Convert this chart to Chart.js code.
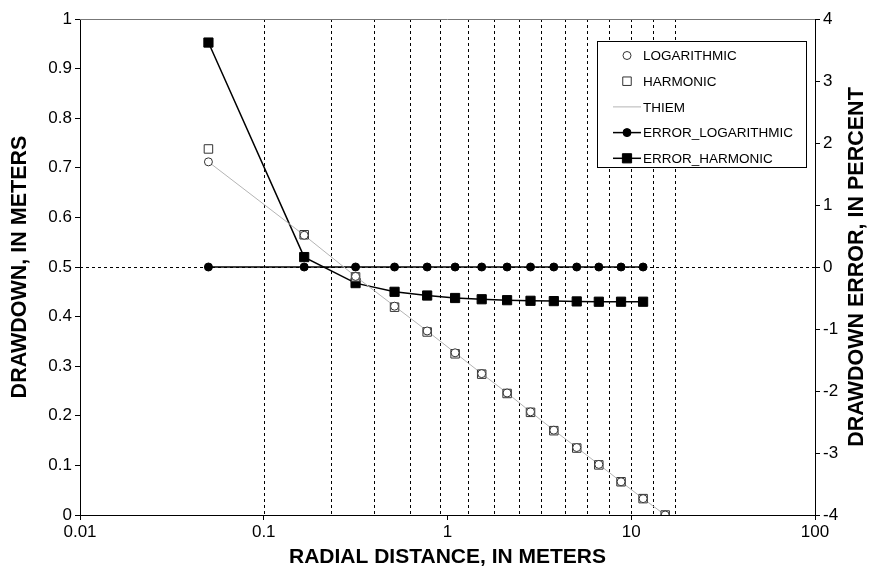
<!DOCTYPE html>
<html>
<head>
<meta charset="utf-8">
<script src="https://cdn.jsdelivr.net/npm/chart.js@4/dist/chart.umd.min.js"></script>
<style>
  html, body { margin: 0; padding: 0; background: #fff; }
  #wrap { width: 870px; height: 573px; }
</style>
</head>
<body>
<div id="wrap"><canvas id="chart" width="870" height="573"></canvas></div>
<script>
// radial distances of the cell centres (m)
const radius = [0.05, 0.166, 0.316, 0.515, 0.775, 1.10, 1.535, 2.11, 2.83, 3.79, 5.05, 6.66, 8.8, 11.6, 15.3];
// cell edges, drawn as dotted verticals
const cellEdges = [0.1, 0.232, 0.399, 0.628, 0.916, 1.286, 1.78, 2.44, 3.22, 4.36, 5.75, 7.58, 10, 13.2, 17.4];

const logarithmic = [0.712, 0.564, 0.481, 0.421, 0.371, 0.327, 0.285, 0.246, 0.208, 0.171, 0.136, 0.102, 0.067, 0.033, 0.0];
const harmonic    = [0.738, 0.565, 0.480, 0.419, 0.369, 0.325, 0.284, 0.245, 0.207, 0.170, 0.135, 0.101, 0.067, 0.033, 0.0];
const thiem       = [0.712, 0.564, 0.481, 0.421, 0.371, 0.327, 0.285, 0.246, 0.208, 0.171, 0.136, 0.102, 0.067, 0.033, 0.0];

// percent error, first 14 radii
const errorLog      = [0, 0, 0, 0, 0, 0, 0, 0, 0, 0, 0, 0, 0, 0];
const errorHarmonic = [3.62, 0.16, -0.26, -0.40, -0.46, -0.50, -0.52, -0.535, -0.545, -0.55, -0.555, -0.56, -0.56, -0.56];

const xTicks = [0.01, 0.1, 1, 10, 100];

const FONT = '"Liberation Sans", Arial, sans-serif';
const pts = vals => vals.map((v, i) => ({ x: radius[i], y: v }));

const guides = {
  id: 'guides',
  beforeDatasetsDraw(chart) {
    const { ctx, chartArea: a, scales } = chart;
    ctx.save();
    ctx.strokeStyle = '#000';
    ctx.lineWidth = 1;
    ctx.setLineDash([3, 3]);
    cellEdges.forEach(v => {
      const px = Math.round(scales.x.getPixelForValue(v)) + 0.5;
      ctx.beginPath(); ctx.moveTo(px, a.top); ctx.lineTo(px, a.bottom); ctx.stroke();
    });
    const py = Math.round(scales.y2.getPixelForValue(0)) + 0.5;
    ctx.beginPath(); ctx.moveTo(a.left, py); ctx.lineTo(a.right, py); ctx.stroke();
    ctx.restore();
  },
  afterDraw(chart) {
    const { ctx, chartArea: a } = chart;
    ctx.save();
    // top frame
    ctx.strokeStyle = '#777';
    ctx.lineWidth = 1;
    ctx.beginPath(); ctx.moveTo(a.left, Math.round(a.top) + 0.5); ctx.lineTo(a.right, Math.round(a.top) + 0.5); ctx.stroke();

    // vertical titles, both reading bottom to top
    ctx.fillStyle = '#000';
    ctx.font = 'bold 21.5px ' + FONT;
    ctx.textAlign = 'center';
    ctx.textBaseline = 'middle';
    [[20, 'DRAWDOWN, IN METERS'], [857, 'DRAWDOWN ERROR, IN PERCENT']].forEach(([x, t]) => {
      ctx.save();
      ctx.translate(x, (a.top + a.bottom) / 2);
      ctx.rotate(-Math.PI / 2);
      ctx.fillText(t, 0, 0);
      ctx.restore();
    });

    // legend box
    const bx = 597.5, by = 41.5, bw = 209, bh = 126;
    ctx.fillStyle = '#fff';
    ctx.fillRect(bx, by, bw, bh);
    ctx.strokeStyle = '#000';
    ctx.strokeRect(bx, by, bw, bh);
    ctx.font = '13.5px ' + FONT;
    ctx.textAlign = 'left';
    chart.data.datasets.forEach((ds, i) => {
      const y = by + 14 + i * 25.7;
      const cx = 627;
      if (ds.showLine !== false) {
        ctx.strokeStyle = ds.borderColor;
        ctx.lineWidth = ds.borderWidth;
        ctx.beginPath(); ctx.moveTo(613, y); ctx.lineTo(641, y); ctx.stroke();
      }
      if (ds.pointRadius > 0) {
        ctx.fillStyle = ds.pointBackgroundColor;
        ctx.strokeStyle = ds.pointBorderColor;
        ctx.lineWidth = 1;
        ctx.beginPath();
        if (ds.pointStyle === 'rect') {
          const s = ds.pointRadius * Math.SQRT1_2;
          ctx.rect(cx - s, y - s, 2 * s, 2 * s);
        } else {
          ctx.arc(cx, y, ds.pointRadius, 0, Math.PI * 2);
        }
        ctx.fill(); ctx.stroke();
      }
      ctx.fillStyle = '#000';
      ctx.fillText(ds.label, 643, y + 1);
    });
    ctx.restore();
  }
};

new Chart(document.getElementById('chart'), {
  type: 'line',
  data: {
    datasets: [
      { label: 'LOGARITHMIC', data: pts(logarithmic), yAxisID: 'y', showLine: false,
        pointStyle: 'circle', pointRadius: 4, pointBackgroundColor: '#fff', pointBorderColor: '#333',
        pointBorderWidth: 1, borderColor: '#333' },
      { label: 'HARMONIC', data: pts(harmonic), yAxisID: 'y', showLine: false,
        pointStyle: 'rect', pointRadius: 6, pointBackgroundColor: '#fff', pointBorderColor: '#333',
        pointBorderWidth: 1, borderColor: '#333' },
      { label: 'THIEM', data: pts(thiem), yAxisID: 'y', borderColor: '#b4b4b4', borderWidth: 1,
        pointRadius: 0, tension: 0 },
      { label: 'ERROR_LOGARITHMIC', data: pts(errorLog), yAxisID: 'y2', borderColor: '#000', borderWidth: 1.5,
        pointStyle: 'circle', pointRadius: 4, pointBackgroundColor: '#000', pointBorderColor: '#000',
        pointBorderWidth: 1, tension: 0 },
      { label: 'ERROR_HARMONIC', data: pts(errorHarmonic), yAxisID: 'y2', borderColor: '#000', borderWidth: 1.5,
        pointStyle: 'rect', pointRadius: 6.5, pointBackgroundColor: '#000', pointBorderColor: '#000',
        pointBorderWidth: 1, tension: 0 }
    ]
  },
  options: {
    responsive: false,
    animation: false,
    devicePixelRatio: 1,
    layout: { padding: { top: 19, right: 0, left: 0, bottom: 0 } },
    plugins: { legend: { display: false }, tooltip: { enabled: false } },
    scales: {
      x: {
        type: 'logarithmic', position: 'bottom', min: 0.01, max: 100,
        afterBuildTicks: s => { s.ticks = xTicks.map(v => ({ value: v })); },
        afterFit: s => { s.height = 58; },
        ticks: { color: '#000', font: { family: FONT, size: 17 }, padding: 2, maxRotation: 0,
          callback: v => String(v) },
        grid: { drawOnChartArea: false, drawTicks: true, tickLength: 5, color: '#000' },
        border: { display: true, color: '#000', width: 1 },
        title: { display: true, text: 'RADIAL DISTANCE, IN METERS', color: '#000',
          font: { family: FONT, size: 21, weight: 'bold' }, padding: { top: 0, bottom: 3 } }
      },
      y: {
        type: 'linear', position: 'left', min: 0, max: 1,
        afterFit: s => { s.width = 80; },
        ticks: { stepSize: 0.1, color: '#000', font: { family: FONT, size: 17 }, padding: 3,
          callback: v => String(Math.round(v * 10) / 10) },
        grid: { drawOnChartArea: false, drawTicks: true, tickLength: 5, color: '#000' },
        border: { display: true, color: '#000', width: 1 }
      },
      y2: {
        type: 'linear', position: 'right', min: -4, max: 4,
        afterFit: s => { s.width = 55; },
        ticks: { stepSize: 1, color: '#000', font: { family: FONT, size: 17 }, padding: 3 },
        grid: { drawOnChartArea: false, drawTicks: true, tickLength: 5, color: '#000' },
        border: { display: true, color: '#000', width: 1 }
      }
    }
  },
  plugins: [guides]
});
</script>
</body>
</html>
